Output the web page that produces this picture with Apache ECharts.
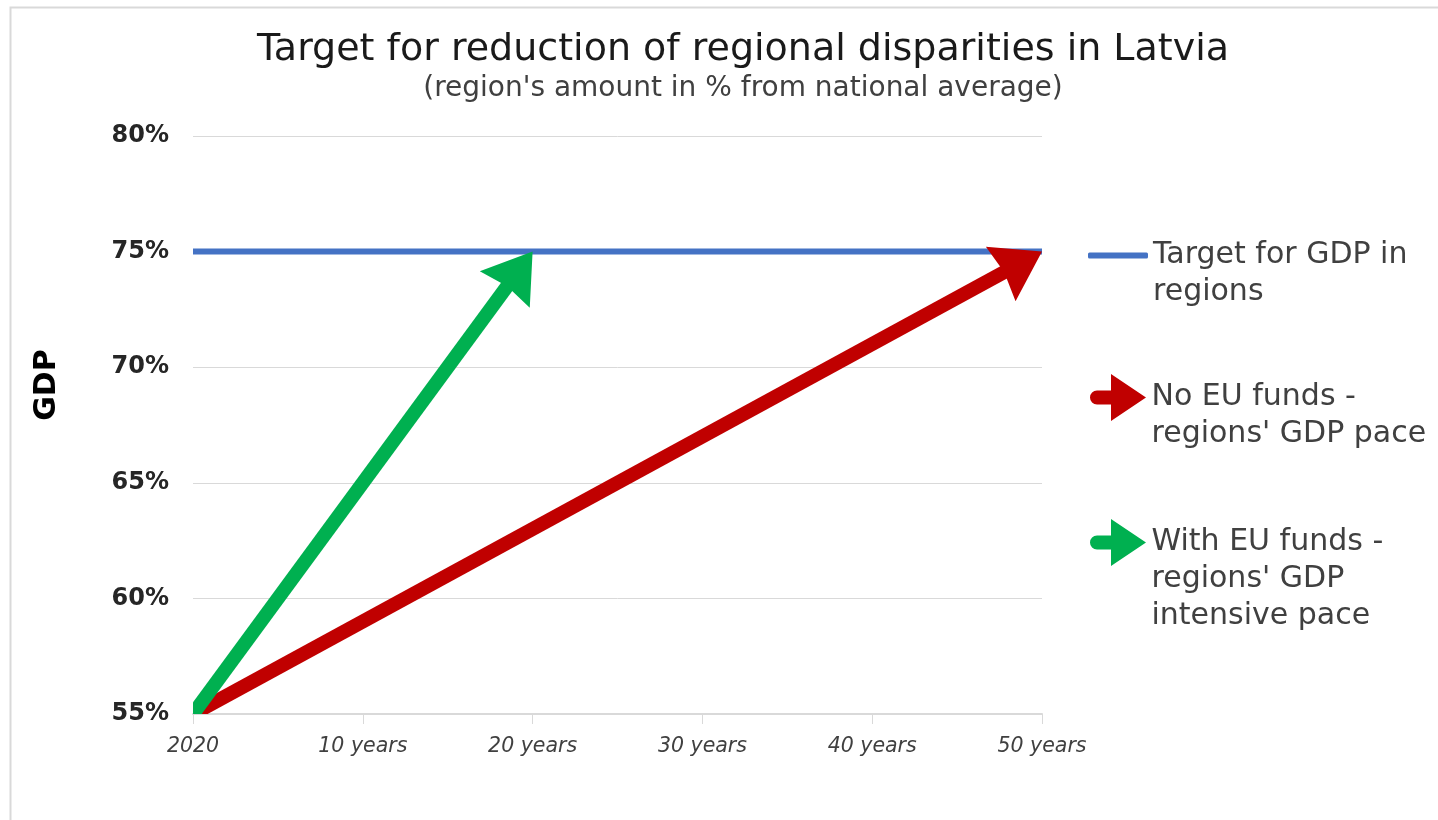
<!DOCTYPE html>
<html>
<head>
<meta charset="utf-8">
<script src="https://cdn.jsdelivr.net/npm/echarts@6/dist/echarts.min.js"></script>
<style>
html,body{margin:0;padding:0;background:#fff;}
#chart{width:1438px;height:820px;}
</style>
</head>
<body>
<div id="chart"></div>
<script>
// ---- data ----
const categories = ['2020', '10 years', '20 years', '30 years', '40 years', '50 years'];
const targetName = 'Target for GDP in regions';
const noFundsName = 'No EU funds - regions\' GDP pace';
const withFundsName = 'With EU funds - regions\' GDP intensive pace';
const targetValues = [75, 75, 75, 75, 75, 75];
const noFundsPoints = [['2020', 55], ['50 years', 75]];
const withFundsPoints = [['2020', 55], ['20 years', 75]];
const yTicks = [55, 60, 65, 70, 75, 80];

const FONT = 'DejaVu Sans';
const chart = echarts.init(document.getElementById('chart'));

function arrowSeries(name, color, pts) {
  return {
    name: name,
    type: 'custom',
    coordinateSystem: 'cartesian2d',
    clip: true,
    z: 3,
    itemStyle: { color: color },
    data: pts.map(p => [categories.indexOf(p[0]), p[1]]),
    encode: { x: 0, y: 1 },
    renderItem: function (params, api) {
      if (params.dataIndex !== pts.length - 1) return;
      const a = api.coord([categories.indexOf(pts[0][0]), pts[0][1]]);
      const b = api.coord([categories.indexOf(pts[pts.length - 1][0]), pts[pts.length - 1][1]]);
      const dx = b[0] - a[0], dy = b[1] - a[1];
      const len = Math.sqrt(dx * dx + dy * dy);
      const ux = dx / len, uy = dy / len;
      const nx = -uy, ny = ux;
      const headLen = 47, halfW = 31, notch = 43;
      const baseX = b[0] - ux * notch, baseY = b[1] - uy * notch;
      return {
        type: 'group',
        children: [
          {
            type: 'line',
            shape: { x1: a[0] - ux * 6, y1: a[1] - uy * 6, x2: baseX + ux * 2, y2: baseY + uy * 2 },
            style: { stroke: color, lineWidth: 14, lineCap: 'butt' }
          },
          {
            type: 'polygon',
            shape: {
              points: [
                [b[0], b[1]],
                [b[0] - ux * headLen + nx * halfW, b[1] - uy * headLen + ny * halfW],
                [baseX, baseY],
                [b[0] - ux * headLen - nx * halfW, b[1] - uy * headLen - ny * halfW]
              ]
            },
            style: { fill: color }
          }
        ]
      };
    }
  };
}

const arrowIcon = 'path://M8,16.5 L22,16.5 L22,0 L57,23.5 L22,47 L22,30.5 L8,30.5 A7,7 0 0 1 8,16.5 Z';
const legendText = { fontFamily: FONT, fontSize: 30, color: '#404040', lineHeight: 37 };

const option = {
  animation: false,
  backgroundColor: '#fff',
  graphic: [{
    type: 'rect', left: 8, top: 5,
    shape: { width: 1450, height: 900 },
    style: { fill: 'none', stroke: '#d9d9d9', lineWidth: 2 }, silent: true
  }],
  title: {
    text: 'Target for reduction of regional disparities in Latvia',
    subtext: '(region\'s amount in % from national average)',
    left: 738, textAlign: 'center', top: 26, itemGap: 6,
    textStyle: { fontFamily: FONT, fontSize: 38, fontWeight: 'normal', color: '#1a1a1a' },
    subtextStyle: { fontFamily: FONT, fontSize: 28, color: '#404040' }
  },
  legend: [
    {
      data: [{ name: targetName, icon: 'roundRect' }],
      orient: 'vertical', left: 1088, top: 200, padding: 0,
      itemWidth: 60, itemHeight: 6, selectedMode: false,
      formatter: () => ' \nTarget for GDP in\nregions',
      textStyle: Object.assign({}, legendText)
    },
    {
      data: [{ name: noFundsName, icon: arrowIcon }],
      orient: 'vertical', left: 1090, top: 342, padding: 0,
      itemWidth: 57, itemHeight: 47, selectedMode: false,
      formatter: () => ' \nNo EU funds -\nregions\' GDP pace',
      textStyle: Object.assign({}, legendText)
    },
    {
      data: [{ name: withFundsName, icon: arrowIcon }],
      orient: 'vertical', left: 1090, top: 450, padding: 0,
      itemWidth: 57, itemHeight: 47, selectedMode: false,
      formatter: () => ' \n \nWith EU funds -\nregions\' GDP\nintensive pace',
      textStyle: Object.assign({}, legendText)
    }
  ],
  grid: { left: 193, right: 396, top: 136, bottom: 106, containLabel: false },
  xAxis: {
    type: 'category',
    data: categories,
    boundaryGap: false,
    axisLine: { show: true, lineStyle: { color: '#d9d9d9', width: 2 } },
    axisTick: { show: true, length: 10, lineStyle: { color: '#d9d9d9', width: 1 }, alignWithLabel: true },
    axisLabel: { fontFamily: FONT, fontSize: 20.5, fontStyle: 'italic', color: '#404040', margin: 23, showMaxLabel: true, showMinLabel: true },
    splitLine: { show: false }
  },
  yAxis: {
    type: 'value',
    min: yTicks[0], max: yTicks[yTicks.length - 1], interval: 5,
    name: 'GDP', nameLocation: 'middle', nameGap: 131, nameRotate: 90,
    nameTextStyle: { fontFamily: FONT, fontSize: 30, fontWeight: 'bold', color: '#000', padding: [0, 0, 0, 80] },
    axisLine: { show: false },
    axisTick: { show: false },
    axisLabel: { fontFamily: FONT, fontSize: 24, fontWeight: 'bold', color: '#262626', margin: 24, formatter: v => v + '%' },
    splitLine: { lineStyle: { color: '#d9d9d9', width: 1 } }
  },
  series: [
    {
      name: targetName,
      type: 'line',
      data: targetValues,
      showSymbol: false,
      lineStyle: { width: 6, color: '#4472C4' },
      itemStyle: { color: '#4472C4' },
      z: 2
    },
    arrowSeries(noFundsName, '#C00000', noFundsPoints),
    arrowSeries(withFundsName, '#00B050', withFundsPoints)
  ]
};
chart.setOption(option);
</script>
</body>
</html>
